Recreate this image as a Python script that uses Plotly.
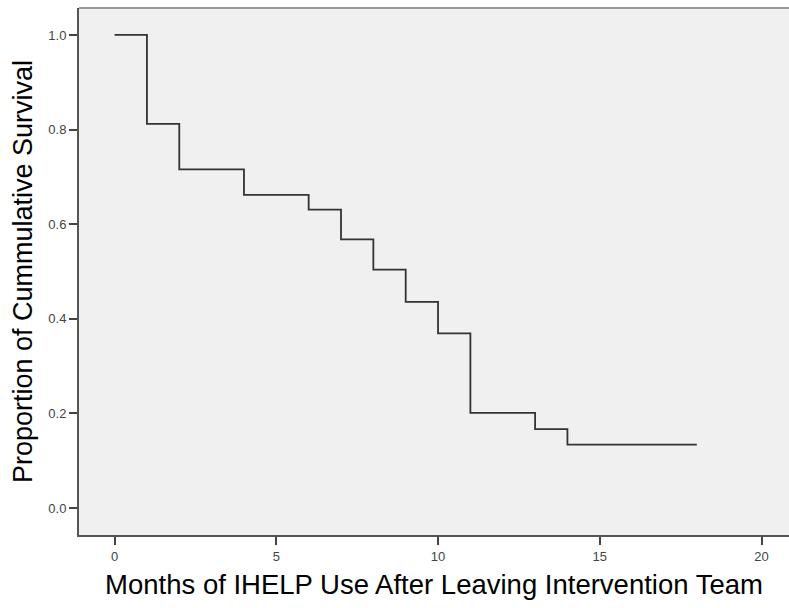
import plotly.graph_objects as go

# Kaplan-Meier step data
event_months = [0, 1, 2, 4, 6, 7, 8, 9, 10, 11, 13, 14]
survival = [1.0, 0.812, 0.716, 0.662, 0.631, 0.568, 0.504, 0.436, 0.369, 0.201, 0.167, 0.134]
last_month = 18

x_ticks = [0, 5, 10, 15, 20]
y_ticks = [0.0, 0.2, 0.4, 0.6, 0.8, 1.0]
y_tick_labels = ["0.0", "0.2", "0.4", "0.6", "0.8", "1.0"]

xs = event_months + [last_month]
ys = survival + [survival[-1]]

fig = go.Figure()
fig.add_trace(go.Scatter(
    x=xs, y=ys, mode="lines", line_shape="hv",
    line=dict(color="#333333", width=1.8),
    hoverinfo="skip", showlegend=False,
))

axis_font = dict(family="Liberation Sans, Arial, sans-serif", size=13, color="#444444")
xtitle_font = dict(family="Liberation Sans, Arial, sans-serif", size=27.5, color="#000000")
ytitle_font = dict(family="Liberation Sans, Arial, sans-serif", size=27, color="#000000")

fig.update_layout(
    width=789, height=608,
    margin=dict(l=79, r=0, t=8, b=73, autoexpand=False),
    paper_bgcolor="white",
    plot_bgcolor="#f0f0f0",
    xaxis=dict(
        range=[-1.1, 20.85], tickvals=x_ticks, ticks="outside", ticklen=8,
        tickcolor="#444444", tickwidth=1.5,
        showgrid=False, zeroline=False, showline=True, linecolor="#555555", linewidth=2,
        tickfont=axis_font,
        title=dict(text="Months of IHELP Use After Leaving Intervention Team", font=xtitle_font, standoff=12),
    ),
    yaxis=dict(
        range=[-0.057, 1.057], tickvals=y_ticks, ticktext=y_tick_labels, ticks="outside", ticklen=8,
        tickcolor="#444444", tickwidth=1.5,
        showgrid=False, zeroline=False, showline=True, linecolor="#555555", linewidth=2,
        tickfont=axis_font,
        title=dict(text="Proportion of Cummulative Survival", font=ytitle_font, standoff=8),
    ),
    shapes=[dict(type="line", xref="paper", yref="paper", x0=0, x1=1, y0=1, y1=1,
                 line=dict(color="#999999", width=2))],
)

fig.write_html("out.html", config={"displayModeBar": False},
               post_script="document.body.style.margin='0';")
